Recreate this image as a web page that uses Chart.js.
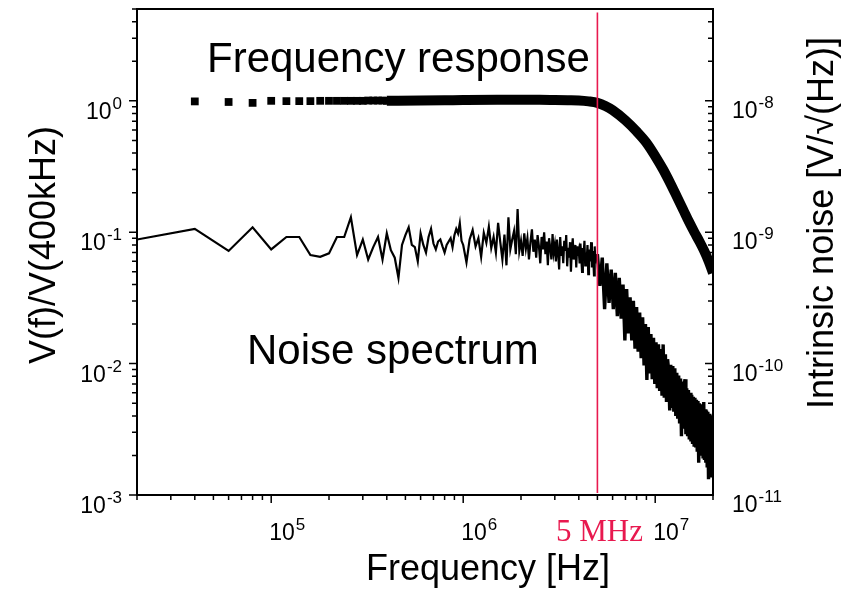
<!DOCTYPE html>
<html lang="en">
<head>
<meta charset="utf-8" />
<title>Frequency response and noise spectrum</title>
<style>
  * { margin: 0; padding: 0; }
  body { background: #fff; }
  .chartBox { width: 851px; height: 591px; }
</style>
</head>
<body>
<div class="chartBox"><canvas id="myChart"></canvas></div>
<script src="https://cdn.jsdelivr.net/npm/chart.js"></script>
<script>
// frequency response, low end: single squares on 20 kHz bins
const respSparseKHz = [40, 60, 80, 100, 120, 140, 160, 180, 200, 220, 240, 260, 280, 300,
  320, 340, 360, 380, 400, 420, 440, 460, 480, 500, 520, 540, 560, 580];
const respSparse = [0.99, 0.98, 0.965, 1.0, 0.995, 0.995, 0.995, 1.0, 1.0, 1.0, 1.0, 1.0, 1.0, 1.0,
  1.005, 1.005, 1.005, 1.005, 1.0, 1.005, 1.0, 1.005, 1.005, 1.0, 1.005, 1.005, 1.01, 1.005];

// frequency response, dense part (squares merge into a thick band)
const respDenseMHz = [0.4, 0.6, 0.8, 1, 1.5, 2, 2.5, 3, 3.5, 4, 4.5, 5, 5.5, 6, 7, 8, 9, 10,
  11, 12, 13, 14, 15, 16, 17, 18, 19, 20];
const respDense = [1.0, 1.005, 1.01, 1.015, 1.02, 1.02, 1.02, 1.015, 1.01, 1.005, 0.99, 0.965,
  0.915, 0.85, 0.71, 0.585, 0.48, 0.38, 0.30, 0.235, 0.185, 0.148, 0.12, 0.10, 0.085, 0.072,
  0.06, 0.049];

// noise spectrum, values x 1e-3, three blocks of bins: [start kHz, step kHz, values]
const noiseA = [88, 106, 72, 109, 74, 92, 92, 67, 65, 69, 92, 92, 130, 67, 88, 62, 77, 92, 62, 98,
  73, 64, 45, 80, 95, 109, 80, 77, 60, 98, 80, 70, 92, 106, 82, 74, 85, 88, 78, 70,
  80, 85, 90, 77, 95, 106, 98, 117, 86];
const noiseB = [80, 59, 88, 104, 78, 90, 65, 99, 83, 110, 76, 92, 70, 118, 84, 62, 96, 56, 130, 74,
  88, 102, 68, 150, 72,
  86, 66, 98, 75, 90, 62, 84, 105, 71, 88, 64, 95, 78, 58, 92, 74, 100, 68, 85, 56,
  90, 76, 62, 97, 70,
  80, 60, 88, 70, 52, 92, 66, 78, 58, 86, 72, 95, 55, 76, 64, 84, 50, 74, 90, 62,
  70, 80, 54, 78, 66,
  72, 58, 82, 64, 50, 76, 68, 86, 56, 70, 62, 80, 48, 74, 60, 66, 84, 54, 72, 62,
  47, 78, 58, 68, 60];
const noiseC = [68, 39, 64, 26, 58, 29, 52, 26, 49, 23, 45, 22, 40, 15, 37, 17, 32, 15, 30, 13,
  27, 12.3, 24.5, 11, 22.5, 9.7, 20, 7.5, 19, 8.4, 16.8, 7.6, 15.7, 7, 14.5, 6.5, 14, 6.2, 12.9, 5.7,
  14, 5.5, 11.8, 5.1, 10.8, 8.9, 4.4, 9.8, 4.6, 9.6, 4.3, 9.2, 4.0, 8.5, 3.8, 8.1, 3.5, 7.7, 2.8, 7.3,
  3.2, 6.9, 7.6, 2.9, 6.5, 2.8, 6.3, 2.65, 6.0, 2.55, 5.8, 2.45, 5.6, 2.4, 5.5, 2.3, 5.3, 2.2, 5.2, 1.76,
  5.0, 2.05, 4.9, 2.0, 4.7, 1.95, 5.1, 1.85, 4.5, 1.76, 4.4, 1.67, 4.3, 1.32, 4.15, 1.5, 4.0, 1.4, 3.8, 1.5];
const noiseBlocks = [[20, 20, noiseA], [1000, 40, noiseB], [5000, 150, noiseC]];

const markerMHz = 5;

// tick label exponents
const xTickExp = [5, 6, 7];
const yTickExp = [0, -1, -2, -3];
const y2TickExp = [-8, -9, -10, -11];

const FONT = '"Liberation Sans", Arial, sans-serif';
const RED = '#e8194f';

const respSparsePts = respSparseKHz.map((f, i) => ({ x: f * 1e3, y: respSparse[i] }));
const respDensePts = respDenseMHz.map((f, i) => ({ x: f * 1e6, y: respDense[i] }));
const noisePts = [];
noiseBlocks.forEach(([start, step, vals]) => {
  vals.forEach((v, i) => noisePts.push({ x: (start + step * i) * 1e3, y: v / 1000 }));
});

function drawPower(ctx, exp, x, y, align) {
  const sup = String(exp);
  ctx.font = '23px ' + FONT;
  const wb = ctx.measureText('10').width;
  ctx.font = '17px ' + FONT;
  const ws = ctx.measureText(sup).width;
  const left = align === 'right' ? x - wb - ws - 1 : x;
  ctx.textAlign = 'left';
  ctx.textBaseline = 'alphabetic';
  ctx.font = '23px ' + FONT;
  ctx.fillText('10', left, y);
  ctx.font = '17px ' + FONT;
  ctx.fillText(sup, left + wb + 1, y - 10);
}

const frame = {
  id: 'frame',
  afterDraw(chart) {
    const { ctx, chartArea: a, scales: { x, y, y2 } } = chart;
    ctx.save();
    ctx.strokeStyle = '#000';
    ctx.fillStyle = '#000';
    ctx.lineWidth = 2;
    ctx.strokeRect(a.left, a.top, a.right - a.left, a.bottom - a.top);

    // tick marks
    ctx.lineWidth = 1.5;
    ctx.beginPath();
    for (let d = 4; d <= 7; d++) {
      for (let m = 1; m <= 9; m++) {
        const v = m * Math.pow(10, d);
        if (v < x.min * 0.999 || v > x.max * 1.001) continue;
        const px = x.getPixelForValue(v);
        ctx.moveTo(px, a.bottom);
        ctx.lineTo(px, a.bottom + (m === 1 ? 8 : 5));
      }
    }
    for (let d = -3; d <= 0; d++) {
      for (let m = 1; m <= 9; m++) {
        const v = m * Math.pow(10, d);
        if (v < y.min * 0.999 || v > y.max * 1.001) continue;
        const py = y.getPixelForValue(v);
        ctx.moveTo(a.left, py);
        ctx.lineTo(a.left - (m === 1 ? 8 : 5), py);
      }
    }
    for (let d = -11; d <= -8; d++) {
      for (let m = 1; m <= 9; m++) {
        const v = m * Math.pow(10, d);
        if (v < y2.min * 0.999 || v > y2.max * 1.001) continue;
        const py = y2.getPixelForValue(v);
        ctx.moveTo(a.right, py);
        ctx.lineTo(a.right - (m === 1 ? 8 : 5), py);
      }
    }
    ctx.stroke();

    // tick labels
    xTickExp.forEach((e) => drawPower(ctx, e, x.getPixelForValue(Math.pow(10, e)) - 2, 540, 'left'));
    yTickExp.forEach((e) => drawPower(ctx, e, 122, y.getPixelForValue(Math.pow(10, e)) + 18, 'right'));
    y2TickExp.forEach((e) => drawPower(ctx, e, 732, y2.getPixelForValue(Math.pow(10, e)) + 17, 'left'));

    // 5 MHz label
    ctx.fillStyle = RED;
    ctx.font = '31px "Liberation Serif", "Times New Roman", serif';
    ctx.textAlign = 'center';
    ctx.fillText('5 MHz', x.getPixelForValue(markerMHz * 1e6) + 2, 541);

    // annotations and axis titles
    ctx.fillStyle = '#000';
    ctx.font = '42px ' + FONT;
    ctx.textAlign = 'left';
    ctx.fillText('Frequency response', 207, 72);
    ctx.fillText('Noise spectrum', 247, 364);

    ctx.font = '36px ' + FONT;
    ctx.textAlign = 'center';
    ctx.fillText('Frequency [Hz]', 488, 580);

    ctx.save();
    ctx.translate(55, 245);
    ctx.rotate(-Math.PI / 2);
    ctx.fillText('V(f)/V(400kHz)', 0, 0);
    ctx.restore();

    ctx.save();
    ctx.translate(833, 223);
    ctx.rotate(-Math.PI / 2);
    ctx.fillText('Intrinsic noise [V/\u221A(Hz)]', 0, 0);
    ctx.restore();

    ctx.restore();
  },
};

const config = {
  type: 'line',
  data: {
    datasets: [
      {
        label: '5 MHz',
        data: [{ x: markerMHz * 1e6, y: 4.7 }, { x: markerMHz * 1e6, y: 1.035e-3 }],
        borderColor: RED,
        borderWidth: 1.6,
        pointRadius: 0,
      },
      {
        label: 'Frequency response',
        data: respSparsePts,
        showLine: false,
        pointStyle: 'rect',
        pointRadius: 5.5,
        pointBorderWidth: 0,
        pointBackgroundColor: '#000',
        borderColor: '#000',
      },
      {
        label: 'Frequency response (dense)',
        data: respDensePts,
        borderColor: '#000',
        borderWidth: 10,
        borderCapStyle: 'butt',
        cubicInterpolationMode: 'monotone',
        pointRadius: 0,
      },
      {
        label: 'Noise spectrum',
        data: noisePts,
        borderColor: '#000',
        borderWidth: 2.2,
        pointRadius: 0,
        tension: 0,
        segment: {
          // densest bins above 5 MHz merge into a solid band
          borderWidth: (c) => (c.p0.parsed.x >= 5e6 ? 3.4 : 2.2),
        },
      },
    ],
  },
  options: {
    responsive: true,
    maintainAspectRatio: false,
    animation: false,
    events: [],
    layout: { padding: { left: 137, right: 138, top: 9, bottom: 96 } },
    plugins: { legend: { display: false }, tooltip: { enabled: false } },
    scales: {
      x: { type: 'logarithmic', min: 2e4, max: 2e7, display: false },
      y: { type: 'logarithmic', min: 1e-3, max: 5, display: false },
      y2: { type: 'logarithmic', min: 1e-11, max: 5e-8, display: false, position: 'right' },
    },
  },
  plugins: [frame],
};

const myChart = new Chart(document.getElementById('myChart'), config);
</script>
</body>
</html>
